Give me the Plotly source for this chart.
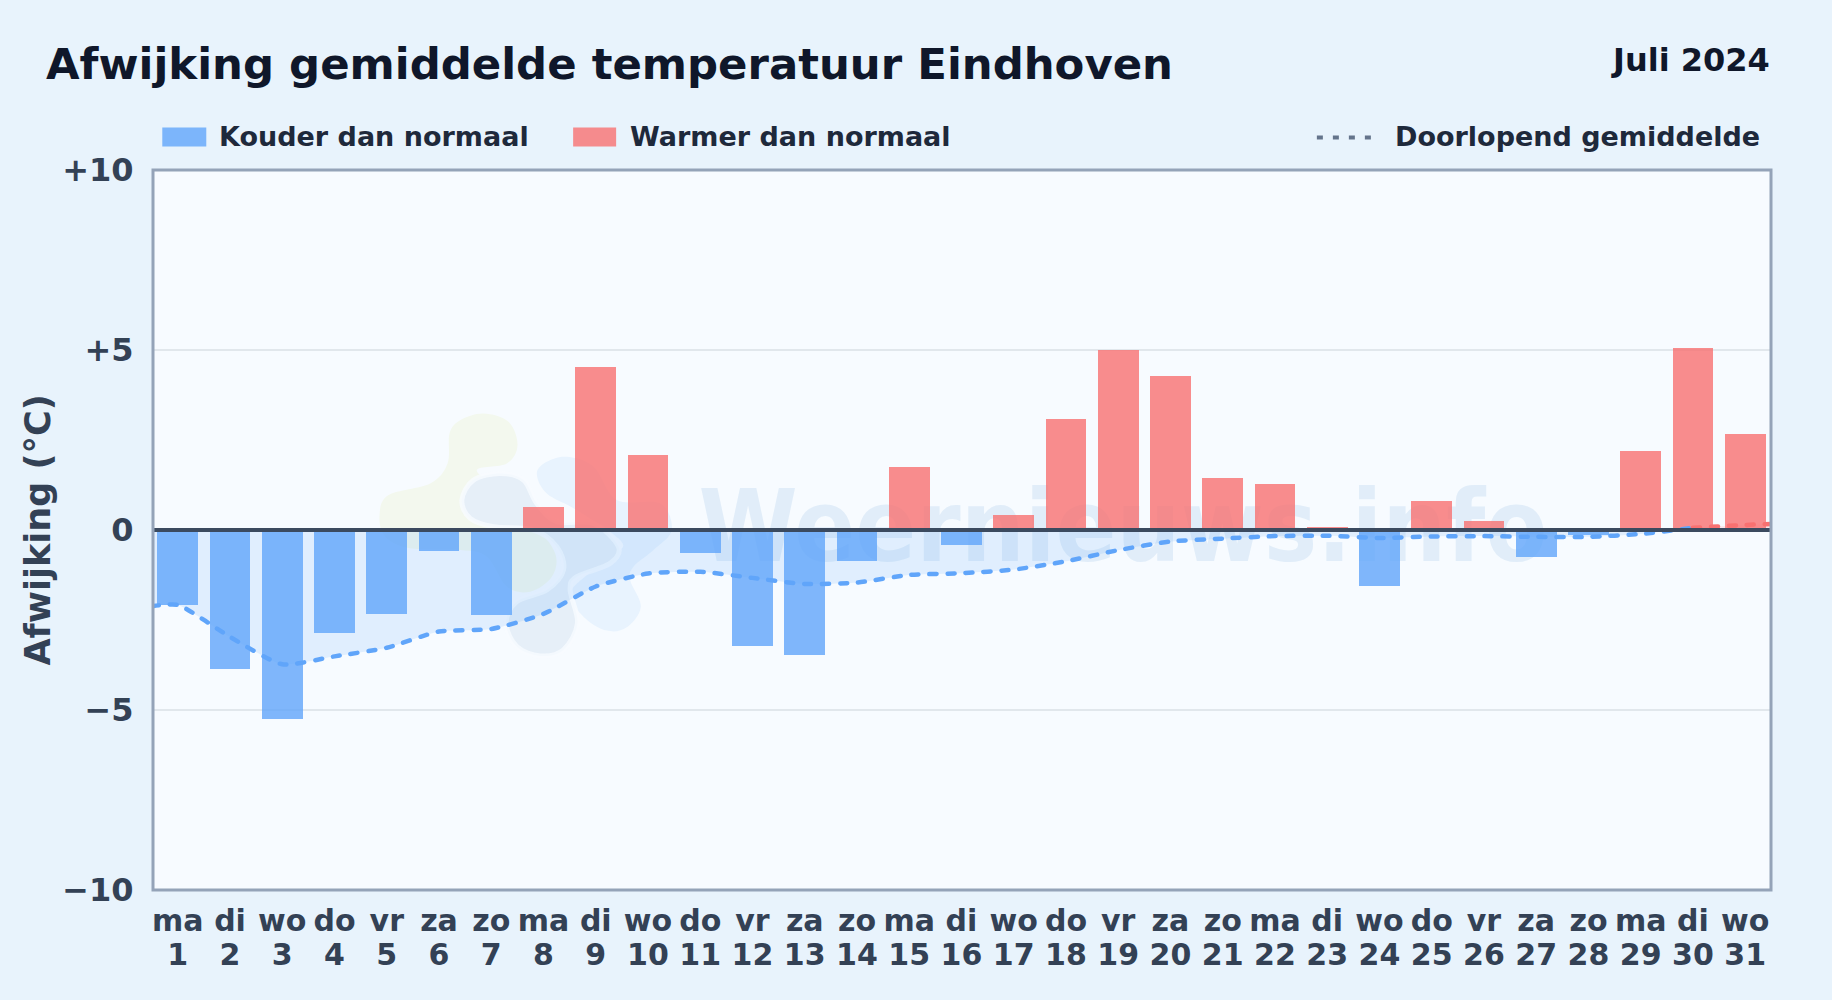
import plotly.graph_objects as go

# ---------- data ----------
days = list(range(1, 32))
weekdays = ["ma","di","wo","do","vr","za","zo","ma","di","wo","do","vr","za","zo","ma","di",
            "wo","do","vr","za","zo","ma","di","wo","do","vr","za","zo","ma","di","wo"]
deviation = [-2.08,-3.86,-5.25,-2.85,-2.33,-0.58,-2.36,0.64,4.53,2.08,-0.64,-3.22,-3.47,-0.86,1.75,-0.41,
             0.42,3.08,5.00,4.28,1.44,1.28,0.09,-1.55,0.80,0.25,-0.75,-0.15,2.19,5.06,2.67]
running_x_blue = [0.5] + days[:30]
running_blue = [-2.12,-2.08,-2.97,-3.73,-3.51,-3.27,-2.82,-2.75,-2.33,-1.57,-1.21,-1.16,-1.33,-1.50,-1.46,-1.25,
                -1.20,-1.10,-0.87,-0.56,-0.32,-0.24,-0.17,-0.16,-0.22,-0.18,-0.17,-0.19,-0.19,-0.11,0.06]
running_x_red = [30, 31, 31.5]
running_red = [0.06, 0.14, 0.17]
y_ticks = [10, 5, 0, -5, -10]
y_tick_labels = ["+10", "+5", "0", "\u22125", "\u221210"]

TITLE = "Afwijking gemiddelde temperatuur Eindhoven"
PERIOD = "Juli 2024"
LEG_COLD = "Kouder dan normaal"
LEG_WARM = "Warmer dan normaal"
LEG_RUN = "Doorlopend gemiddelde"
WATERMARK = "Weernieuws.info"

# ---------- layout constants ----------
W, H = 1832, 1000
L, R, T, B = 152.7, 1771.3, 169.6, 890.3
FONT = "DejaVu Sans"
fx = lambda p: (p - L) / (R - L)
fy = lambda p: (B - p) / (B - T)
xr = [0.526, 31.494]

def blob(pts, ox=360, oy=390, k=3):
    """Closed smooth outline for the decorative watermark logo (crop px -> paper)."""
    P = [(ox + a / k, oy + b / k) for a, b in pts]
    n = len(P)
    s = f"M {fx(P[0][0]):.5f} {fy(P[0][1]):.5f} "
    for i in range(n):
        p0, p1, p2, p3 = P[i-1], P[i], P[(i+1) % n], P[(i+2) % n]
        c1 = (p1[0] + (p2[0]-p0[0]) / 6, p1[1] + (p2[1]-p0[1]) / 6)
        c2 = (p2[0] - (p3[0]-p1[0]) / 6, p2[1] - (p3[1]-p1[1]) / 6)
        s += f"C {fx(c1[0]):.5f} {fy(c1[1]):.5f} {fx(c2[0]):.5f} {fy(c2[1]):.5f} {fx(p2[0]):.5f} {fy(p2[1]):.5f} "
    return s + "Z"

green = [(370,70),(445,95),(472,165),(440,220),(350,240),(420,300),(520,400),(585,490),(575,560),(510,605),(440,590),
         (380,500),(300,480),(150,475),(75,440),(58,375),(85,315),(210,280),(262,220),(268,130),(300,90)]
light = [(620,200),(700,230),(770,330),(900,340),(935,420),(880,480),(820,530),(810,570),(842,650),(800,712),(740,722),
         (670,680),(630,610),(700,540),(770,490),(780,450),(650,360),(560,310),(530,250),(560,215)]
grey = [(305,330),(340,270),(420,250),(490,270),(530,340),(590,395),(700,400),(775,470),(750,520),(650,560),(630,600),
        (652,700),(610,780),(540,798),(470,770),(438,700),(470,635),(560,600),(610,540),(590,470),(520,420),(400,410),(330,385)]

shapes = [
    dict(type="path", path=blob(green), xref="paper", yref="paper", fillcolor="#f3f8ee", line_width=0, layer="below"),
    dict(type="path", path=blob(light), xref="paper", yref="paper", fillcolor="#e8f3fe", line_width=0, layer="below"),
    dict(type="path", path=blob(grey), xref="paper", yref="paper", fillcolor="#e6eff8",
         line=dict(color="rgba(248,251,255,0.8)", width=5), layer="below"),
    # zero line on top of the marks
    dict(type="line", xref="paper", x0=0, x1=1, yref="y", y0=0, y1=0, line=dict(color="#3b4a5f", width=4), layer="above"),
    # plot frame
    dict(type="rect", xref="paper", yref="paper", x0=0, x1=1, y0=0, y1=1, line=dict(color="#94a3b8", width=3),
         fillcolor="rgba(0,0,0,0)", layer="above"),
    # legend swatches
    dict(type="rect", xref="paper", yref="paper", x0=fx(162), x1=fx(206), y0=fy(146), y1=fy(127),
         fillcolor="rgba(96,165,250,0.8)", line_width=0),
    dict(type="rect", xref="paper", yref="paper", x0=fx(573), x1=fx(616), y0=fy(146), y1=fy(127),
         fillcolor="rgba(248,113,113,0.8)", line_width=0),
    dict(type="line", xref="paper", yref="paper", x0=fx(1317), x1=fx(1375), y0=fy(137), y1=fy(137),
         line=dict(color="#64748b", width=4, dash="6px,10px")),
]

fig = go.Figure()

# under layer: watermark text and the soft fill under the running mean
fig.add_trace(go.Scatter(x=[19.09], y=[-0.17], mode="text", text=[WATERMARK], textposition="middle center",
                         textfont=dict(family="DejaVu Sans Condensed", size=100, color="rgba(128,178,222,0.18)", weight="bold"),
                         showlegend=False, hoverinfo="skip"))
fig.add_trace(go.Scatter(x=running_x_blue, y=running_blue, mode="lines", line=dict(width=0, shape="spline", smoothing=0.6),
                         fill="tozeroy", fillcolor="rgba(96,165,250,0.15)", showlegend=False, hoverinfo="skip"))
fig.add_trace(go.Scatter(x=running_x_red, y=running_red, mode="lines", line=dict(width=0, shape="spline", smoothing=0.6),
                         fill="tozeroy", fillcolor="rgba(248,113,113,0.15)", showlegend=False, hoverinfo="skip"))

# upper layer: bars and the line
cold_x = [d for d, v in zip(days, deviation) if v < 0]
cold_y = [v for v in deviation if v < 0]
warm_x = [d for d, v in zip(days, deviation) if v >= 0]
warm_y = [v for v in deviation if v >= 0]
fig.add_trace(go.Bar(x=cold_x, y=cold_y, width=0.78, name=LEG_COLD, marker=dict(color="rgba(96,165,250,0.8)", line_width=0),
                     xaxis="x2", yaxis="y2", showlegend=False))
fig.add_trace(go.Bar(x=warm_x, y=warm_y, width=0.78, name=LEG_WARM, marker=dict(color="rgba(248,113,113,0.8)", line_width=0),
                     xaxis="x2", yaxis="y2", showlegend=False))
fig.add_trace(go.Scatter(x=running_x_blue, y=running_blue, mode="lines", name=LEG_RUN, xaxis="x2", yaxis="y2", showlegend=False,
                         line=dict(color="#60a5fa", width=4.5, dash="7px,11px", shape="spline", smoothing=0.6)))
fig.add_trace(go.Scatter(x=running_x_red, y=running_red, mode="lines", name=LEG_RUN, xaxis="x2", yaxis="y2", showlegend=False,
                         line=dict(color="#f87171", width=4.5, dash="7px,11px", shape="spline", smoothing=0.6)))

def note(text, x, y, size, color, anchor="left"):
    return dict(text=f"<b>{text}</b>", xref="paper", yref="paper", x=fx(x), y=fy(y), xanchor=anchor, yanchor="middle",
                showarrow=False, font=dict(family=FONT, size=size, color=color))

annotations = [
    note(TITLE, 44, 63, 43.4, "#0f172a"),
    note(PERIOD, 1772, 59, 32, "#0f172a", "right"),
    note(LEG_COLD, 217, 136, 27, "#1e293b"),
    note(LEG_WARM, 628, 136, 27, "#1e293b"),
    note(LEG_RUN, 1393, 136, 27, "#1e293b"),
]

tick_font = dict(family=FONT, size=30, color="#334155", weight="bold")
fig.update_layout(
    width=W, height=H, autosize=False,
    margin=dict(l=L, r=W - R, t=T, b=H - B, pad=0),
    paper_bgcolor="#e8f3fc", plot_bgcolor="#f7fbff",
    barmode="overlay", bargap=0, shapes=shapes, annotations=annotations,
    font=dict(family=FONT, color="#334155"),
    xaxis=dict(range=xr, tickmode="array", tickvals=days, ticktext=weekdays, tickfont=tick_font, tickangle=0,
               ticks="outside", ticklen=4, tickcolor="rgba(0,0,0,0)", showgrid=False, zeroline=False, showline=False),
    yaxis=dict(range=[-10, 10], tickmode="array", tickvals=y_ticks, ticktext=y_tick_labels,
               tickfont=dict(family=FONT, size=32, color="#334155", weight="bold"),
               ticks="outside", ticklen=12, tickcolor="rgba(0,0,0,0)", gridcolor="#e1e7ec", gridwidth=2, zeroline=False, showline=False,
               title=dict(text="<b>Afwijking (\u00b0C)</b>", font=dict(family=FONT, size=35, color="#334155"), standoff=1)),
    xaxis2=dict(range=xr, overlaying="x", side="bottom", tickmode="array", tickvals=days, ticktext=[str(d) for d in days],
                tickfont=tick_font, tickangle=0, ticks="outside", ticklen=38, tickcolor="rgba(0,0,0,0)",
                showgrid=False, zeroline=False, showline=False),
    yaxis2=dict(range=[-10, 10], overlaying="y", visible=False),
)

fig.write_html("out.html", config=dict(displayModeBar=False),
               post_script=("document.body.style.margin='0';document.body.style.background='#e8f3fc';"
                            "document.querySelectorAll('.scatterlayer .js-line').forEach(function(p){p.style.strokeLinecap='round';});"))
